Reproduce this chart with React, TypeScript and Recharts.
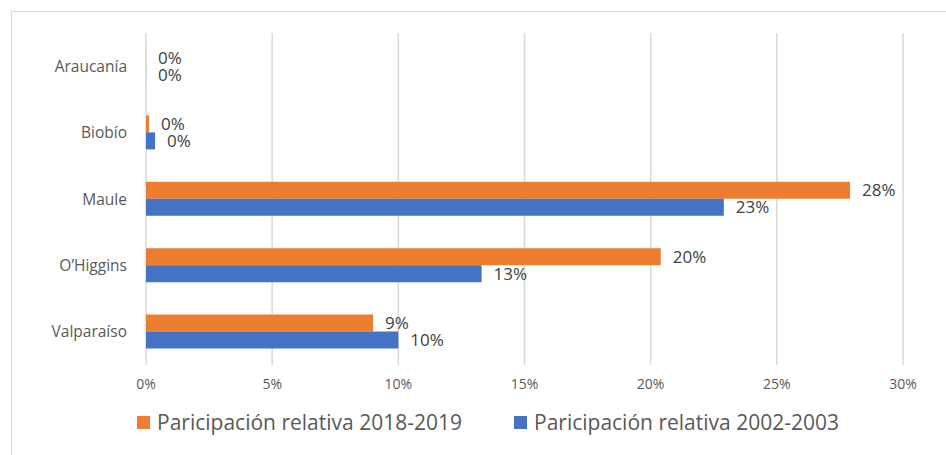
import { Bar, BarChart, CartesianGrid, LabelList, Legend, XAxis, YAxis } from "recharts";

const regions = ["Araucanía", "Biobío", "Maule", "O’Higgins", "Valparaíso"];
const share2018 = [0.004, 0.12, 27.9, 20.4, 9.0];
const share2002 = [0.004, 0.36, 22.9, 13.3, 10.0];
const xTicks = [0, 5, 10, 15, 20, 25, 30];

const seriesNames = {
  recent: "Paricipación relativa 2018-2019",
  old: "Paricipación relativa 2002-2003",
};

const orange = "#ed7d31";
const blue = "#4472c4";
const font = "'Open Sans', 'Noto Sans', sans-serif";

const data = regions.map((region, i) => ({
  region,
  recent: share2018[i],
  old: share2002[i],
}));

const pct = (v: unknown) => `${Math.round(Number(v))}%`;

function LegendRow() {
  const items = [
    { color: orange, label: seriesNames.recent },
    { color: blue, label: seriesNames.old },
  ];
  return (
    <div
      style={{
        display: "flex",
        justifyContent: "center",
        gap: 52,
        paddingLeft: 30,
        fontFamily: font,
        fontSize: 21,
        color: "#595959",
      }}
    >
      {items.map((it) => (
        <div key={it.label} style={{ display: "flex", alignItems: "center", gap: 7 }}>
          <span style={{ width: 13, height: 13, background: it.color, display: "inline-block" }} />
          <span>{it.label}</span>
        </div>
      ))}
    </div>
  );
}

export default function App() {
  return (
    <div
      style={{
        position: "absolute",
        left: 0,
        top: 0,
        width: 946,
        height: 455,
        background: "#fff",
        overflow: "hidden",
      }}
    >
      <div
        style={{
          position: "absolute",
          left: 11,
          top: 11,
          width: 960,
          height: 470,
          border: "1px solid #d9d9d9",
        }}
      />
      <BarChart
        width={946}
        height={455}
        data={data}
        layout="vertical"
        margin={{ top: 33, right: 43, bottom: 60, left: 0 }}
        barSize={17}
        barGap={0}
        accessibilityLayer={false}
      >
        <CartesianGrid horizontal={false} stroke="#d9d9d9" strokeWidth={1.5} />
        <XAxis
          type="number"
          domain={[0, 30]}
          ticks={xTicks}
          tickFormatter={(v) => `${v}%`}
          axisLine={false}
          tickLine={false}
          tickSize={0}
          tickMargin={14}
          height={30}
          tick={{ fill: "#595959", fontSize: 14, fontFamily: font }}
        />
        <YAxis
          type="category"
          dataKey="region"
          width={146}
          axisLine={false}
          tickLine={false}
          tickSize={0}
          tickMargin={19}
          interval={0}
          tick={{ fill: "#595959", fontSize: 15.5, fontFamily: font }}
        />
        <Legend
          verticalAlign="middle"
          align="center"
          wrapperStyle={{ top: 408, left: 0, width: 946 }}
          content={() => <LegendRow />}
        />
        <Bar dataKey="recent" name={seriesNames.recent} fill={orange} isAnimationActive={false}>
          <LabelList
            dataKey="recent"
            position="right"
            offset={12}
            formatter={pct}
            style={{ fill: "#404040", fontSize: 17, fontFamily: font }}
          />
        </Bar>
        <Bar dataKey="old" name={seriesNames.old} fill={blue} isAnimationActive={false}>
          <LabelList
            dataKey="old"
            position="right"
            offset={12}
            formatter={pct}
            style={{ fill: "#404040", fontSize: 17, fontFamily: font }}
          />
        </Bar>
      </BarChart>
    </div>
  );
}
